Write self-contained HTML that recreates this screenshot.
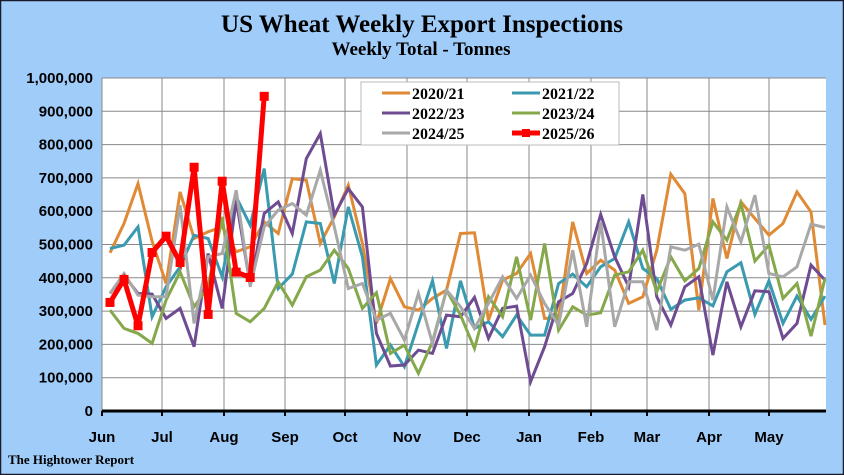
<!DOCTYPE html>
<html><head><meta charset="utf-8"><style>
html,body{margin:0;padding:0;}
body{width:844px;height:475px;overflow:hidden;background:#a0ccfa;}
svg{display:block;}
</style></head><body>
<svg id="chart" width="844" height="475" xmlns="http://www.w3.org/2000/svg">
<rect x="0.5" y="0.5" width="843" height="474" fill="#a0ccfa" stroke="#1a1a2a" stroke-width="1.5"/>
<text x="422" y="32" text-anchor="middle" font-family="Liberation Serif, serif" font-weight="bold" font-size="25" fill="#000">US Wheat Weekly Export Inspections</text>
<text x="421" y="55" text-anchor="middle" font-family="Liberation Serif, serif" font-weight="bold" font-size="19" fill="#000">Weekly Total - Tonnes</text>
<rect x="102" y="78" width="724" height="333" fill="#fff"/>
<g id="grid"></g>
<g id="series"></g>
<g id="axes"></g>
<g>
<rect x="361" y="82" width="258" height="63" fill="#fff" stroke="#bbb"/>
</g>
<g id="legend"></g>
<text x="8" y="464" font-family="Liberation Serif, serif" font-weight="bold" font-size="13" fill="#000">The Hightower Report</text>
</svg>
<script>
const months = ["Jun","Jul","Aug","Sep","Oct","Nov","Dec","Jan","Feb","Mar","Apr","May"];
const monthX = [102,162,224,285,345,407,467,529,591,647,709,769];
const yTicks = [0,100000,200000,300000,400000,500000,600000,700000,800000,900000,1000000];
const seriesNames = ["2020/21","2021/22","2022/23","2023/24","2024/25","2025/26"];
const seriesColors = ["#e08a35","#3a9ab0","#6f4c92","#84a84a","#a8a8a8","#ff0000"];
const s2020 = [475,563,683,510,383,658,518,538,553,478,493,568,533,698,693,503,583,678,503,263,398,313,303,338,363,533,535,273,393,413,473,278,278,568,413,453,423,323,343,483,711,653,303,638,458,628,578,528,563,658,598,258];
const s2021 = [488,498,553,283,373,433,528,518,403,643,558,728,368,411,568,563,383,613,463,138,198,133,263,391,188,391,248,268,223,288,228,228,383,411,373,433,458,568,428,398,305,333,340,316,418,445,290,391,263,345,275,345];
const s2022 = [353,408,353,351,278,308,193,473,308,633,378,593,628,533,758,833,588,668,613,233,135,138,183,173,288,283,341,218,308,315,88,193,328,353,443,590,463,373,650,343,258,373,403,168,388,253,361,358,218,263,438,393];
const s2023 = [303,248,233,203,333,418,313,373,583,293,268,308,388,318,403,423,483,428,308,355,173,198,113,208,363,288,188,343,283,463,273,503,243,313,288,295,408,418,483,358,463,391,428,568,513,623,450,498,338,383,225,398];
const s2024 = [353,413,348,343,343,618,263,463,473,663,373,553,603,623,588,723,553,368,383,273,293,213,353,203,363,313,248,323,403,338,408,323,258,483,253,568,253,388,388,243,493,483,501,333,613,508,648,413,403,433,561,551];
const s2025 = [326,395,256,476,525,446,732,290,690,417,401,945];
const allSeries = [s2020,s2021,s2022,s2023,s2024,s2025];

const NS="http://www.w3.org/2000/svg";
const X0=102,X1=826,Y0=411,Y1=78;
function xWeek(i){return 110+14.02*i;}
function yVal(v){return Y0-(v/1000000)*(Y0-Y1);}
function mk(tag,attrs,parent){const e=document.createElementNS(NS,tag);for(const k in attrs)e.setAttribute(k,attrs[k]);parent.appendChild(e);return e;}
const grid=document.getElementById('grid'),axes=document.getElementById('axes'),ser=document.getElementById('series'),leg=document.getElementById('legend');
yTicks.forEach((t,i)=>{
  const y=yVal(t);
  if(t>0){const l=mk('line',{x1:X0,x2:X1,y1:y,y2:y,stroke:'#888','stroke-width':1},grid);
    
    }
  const tx=mk('text',{x:93,y:y+5,'text-anchor':'end','font-family':'Liberation Sans, sans-serif','font-weight':'bold','font-size':'15',fill:'#000'},axes);
  tx.textContent=t.toLocaleString('en-US');
  
  
});
months.forEach((m,i)=>{
  const x=monthX[i];
  if(i>0){const l=mk('line',{x1:x,x2:x,y1:Y1,y2:Y0,stroke:'#888','stroke-width':1},grid);
    
    }
  const tk=mk('line',{x1:x,x2:x,y1:Y0,y2:Y0+5,stroke:'#000','stroke-width':2},axes);
  
  
  const tx=mk('text',{x:x,y:442,'text-anchor':'middle','font-family':'Liberation Sans, sans-serif','font-weight':'bold','font-size':'15',fill:'#000'},axes);
  tx.textContent=m;
  
  
});
const yax=mk('line',{x1:X0,x2:X0,y1:Y1,y2:Y0,stroke:'#888','stroke-width':1},axes);


const xax=mk('line',{x1:X0,x2:X1,y1:Y0,y2:Y0,stroke:'#000','stroke-width':3},axes);


allSeries.forEach((d,si)=>{
  const pts=d.map((v,i)=>xWeek(i).toFixed(1)+','+yVal(v*1000).toFixed(1)).join(' ');
  const red=si===5;
  const p=mk('polyline',{points:pts,fill:'none',stroke:seriesColors[si],'stroke-width':red?5:3,'stroke-linejoin':'miter'},ser);
  
  
  if(red){d.forEach((v,i)=>{
    const r=mk('rect',{x:xWeek(i)-4.5,y:yVal(v*1000)-4.5,width:9,height:9,fill:'#ff0000'},ser);
    
    
  });}
});
const legPos=[[382,93],[512,93],[382,113],[512,113],[382,133],[512,133]];
seriesNames.forEach((n,i)=>{
  const [x,y]=legPos[i];
  const l=mk('line',{x1:x,x2:x+28,y1:y,y2:y,stroke:seriesColors[i],'stroke-width':i===5?5:3},leg);
  
  
  if(i===5){const r=mk('rect',{x:x+10,y:y-4,width:8,height:8,fill:'#ff0000'},leg);
    
    }
  const t=mk('text',{x:x+30,y:y+6,'font-family':'Liberation Serif, serif','font-weight':'bold','font-size':'16',fill:'#000'},leg);
  t.textContent=n;
  
  
});
</script>
</body></html>
